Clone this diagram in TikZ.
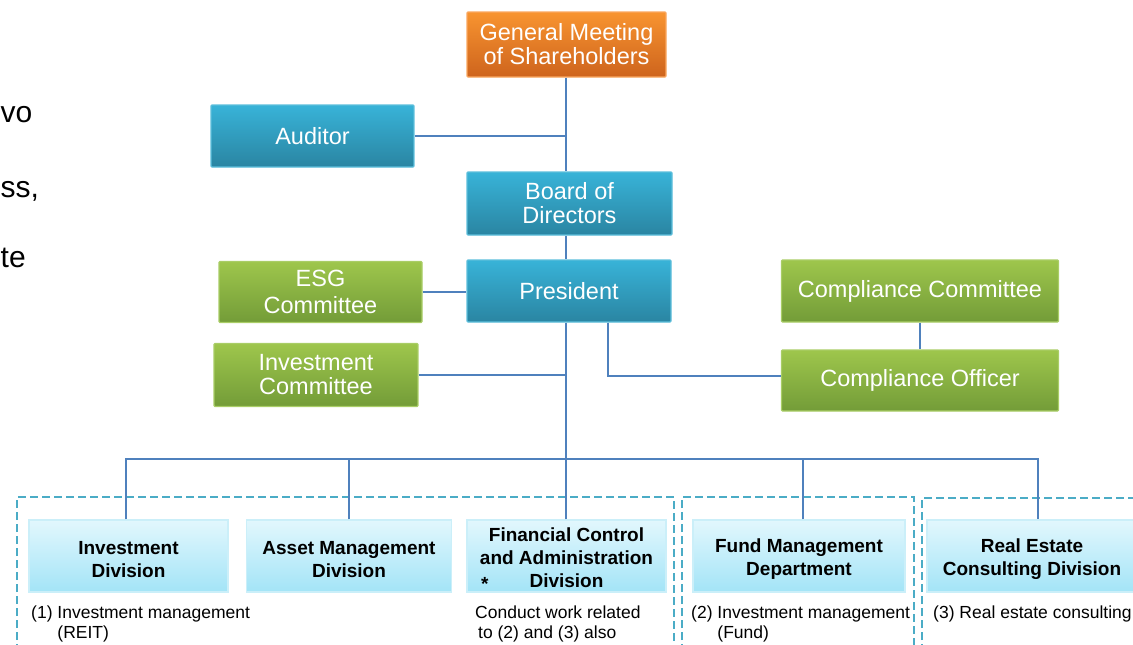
\documentclass[tikz,border=0pt]{standalone}
\usepackage{fontspec}
\setmainfont{Liberation Sans}
\definecolor{connC}{HTML}{4F81BD}
\definecolor{dashC}{HTML}{4BACC6}
\definecolor{blueT}{HTML}{38B3D8}
\definecolor{blueD}{HTML}{2A85A2}
\definecolor{blueB}{HTML}{5CBEDB}
\definecolor{greenT}{HTML}{9EC64C}
\definecolor{greenD}{HTML}{739C38}
\definecolor{greenB}{HTML}{A9CD66}
\definecolor{orangeT}{HTML}{F89430}
\definecolor{orangeD}{HTML}{CE641D}
\definecolor{orangeB}{HTML}{FAA75F}
\definecolor{divT}{HTML}{E2F7FD}
\definecolor{divD}{HTML}{A3E4F7}
\definecolor{divB}{HTML}{CBEFF9}
\newcommand\dpad{\mbox{}\\[-3pt]}
\begin{document}
\begin{tikzpicture}[x=1pt,y=-1pt,
  box/.style={rectangle, rounded corners=1pt, inner sep=0pt, align=center,
    line width=1.2pt, text=white, font=\fontsize{23.5}{24}\selectfont},
  bluebox/.style={box, draw=blueB, top color=blueT, bottom color=blueD},
  greenbox/.style={box, draw=greenB, top color=greenT, bottom color=greenD},
  orangebox/.style={box, draw=orangeB, top color=orangeT, bottom color=orangeD},
  divbox/.style={rectangle, inner sep=0pt, align=center, line width=1.5pt,
    draw=divB, top color=divT, bottom color=divD, text=black,
    minimum height=72pt, font=\bfseries\fontsize{19}{23}\selectfont},
  conn/.style={draw=connC, line width=2pt},
  dbox/.style={draw=dashC, line width=2.5pt, dash pattern=on 8pt off 4pt},
  note/.style={inner sep=0pt, align=left, anchor=north west, text=black,
    font=\fontsize{17.5}{20}\selectfont},
  frag/.style={inner sep=0pt, anchor=base west, text=black,
    font=\fontsize{30}{32}\selectfont}
]
\useasboundingbox (0,0) rectangle (1133,645);
\clip (0,0) rectangle (1133,645);

% left fragments of slide text
\node[frag] (f1) at (0.5,122) {vo};
\node[frag] (f2) at (0.5,197) {ss,};
\node[frag] (f3) at (0.5,267) {te};

% dashed group boxes
\draw[dbox] (17,700) -- (17,497) -- (674,497) -- (674,700);
\draw[dbox] (682,700) -- (682,497) -- (914,497) -- (914,700);
\draw[dbox] (922,700) -- (922,498) -- (1160,498);

% top nodes
\node[orangebox, minimum width=199pt, minimum height=65pt] (gms) at (566.5,44.5) {General Meeting\\of Shareholders};
\node[bluebox, minimum width=203pt, minimum height=62pt] (aud) at (312.5,136) {Auditor};
\node[bluebox, minimum width=205pt, minimum height=63pt] (bod) at (569.5,203.5) {Board of\\Directors};
\node[bluebox, minimum width=204pt, minimum height=62pt] (pres) at (569,291) {President};
\node[greenbox, minimum width=203pt, minimum height=61pt] (esg) at (320.5,292) {ESG\\[3pt]Committee};
\node[greenbox, minimum width=204pt, minimum height=63pt] (invc) at (316,375) {Investment\\Committee};
\node[greenbox, minimum width=277pt, minimum height=62pt] (cc) at (920,291) {Compliance Committee};
\node[greenbox, minimum width=277pt, minimum height=61pt] (co) at (920,380.5) {Compliance Officer};

% division nodes
\node[divbox, minimum width=199pt] (invd) at (128.5,556) {\dpad Investment\\Division};
\node[divbox, minimum width=205pt] (amd) at (349,556) {\dpad Asset Management\\Division};
\node[divbox, minimum width=199pt] (fcd) at (566.5,556) {\dpad Financial Control\\and Administration\\\llap{\raisebox{-3pt}{*}\hspace{41pt}}Division};
\node[divbox, minimum width=212pt] (fmd) at (799,556) {\dpad Fund Management\\Department};
\node[divbox, minimum width=210pt] (red) at (1032,556) {\dpad Real Estate\\Consulting Division};

% notes
\node[note] (n1) at (31,606) {(1) Investment management\\\phantom{(1)~}(REIT)};
\node[note] (n2) at (475,606) {Conduct work related\\\hspace{3pt}to (2) and (3) also};
\node[note] (n3) at (691,606) {(2) Investment management\\\phantom{(2)~}(Fund)};
\node[note] (n4) at (933,606) {(3) Real estate consulting};

% connectors
\coordinate (spine) at (566,0);
\coordinate (bus) at (0,459);
\coordinate (cpt) at (608,376);
\draw[conn] (gms.south -| spine) -- (bod.north -| spine);
\draw[conn] (aud.east) -- (aud.east -| spine);
\draw[conn] (bod.south -| spine) -- (pres.north -| spine);
\draw[conn] (esg.east) -- (esg.east -| pres.west);
\draw[conn] (invc.east) -- (invc.east -| spine);
\draw[conn] (pres.south -| spine) -- (bus -| spine);
\draw[conn] (pres.south -| cpt) -- (cpt) -- (cpt -| co.west);
\draw[conn] (cc.south) -- (co.north);
\draw[conn] (invd.north -| 126,0) -- (126,459) -- (1038,459) -- (red.north -| 1038,0);
\draw[conn] (amd.north) -- (amd.north |- bus);
\draw[conn] (fcd.north -| spine) -- (bus -| spine);
\draw[conn] (fmd.north -| 803,0) -- (803,459);
\end{tikzpicture}
\end{document}
